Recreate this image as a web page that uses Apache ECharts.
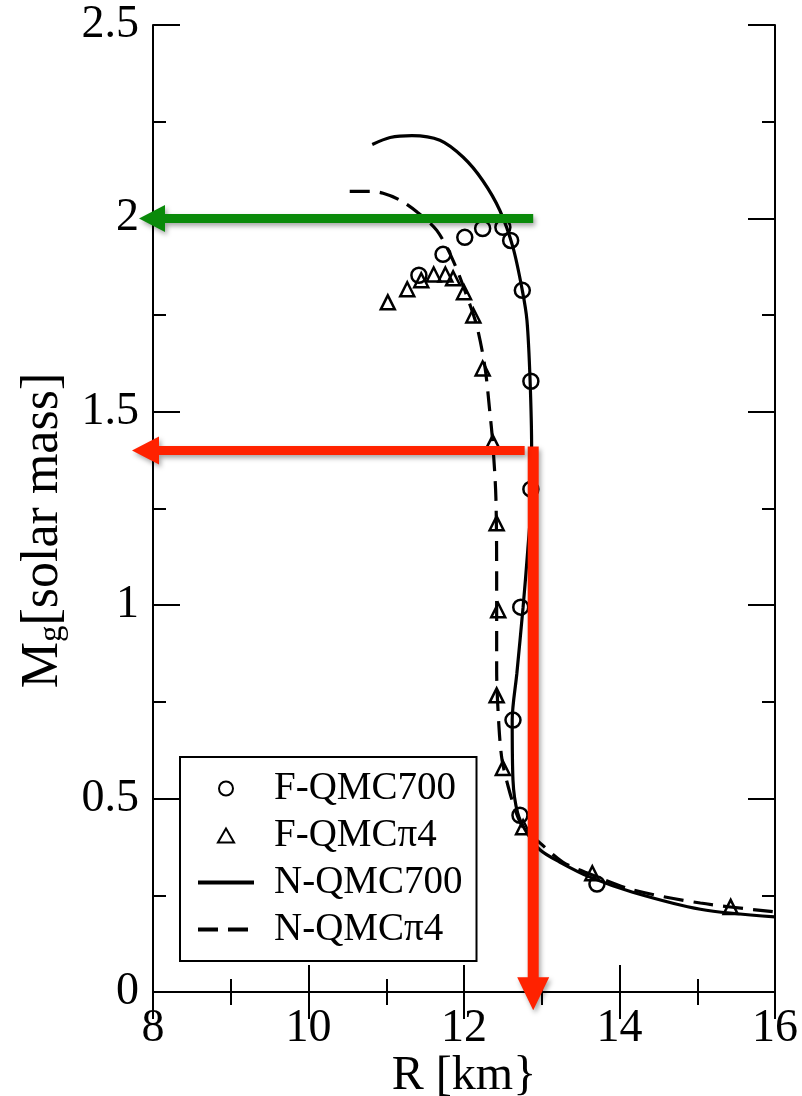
<!DOCTYPE html>
<html>
<head>
<meta charset="utf-8">
<script src="https://cdn.jsdelivr.net/npm/echarts@6/dist/echarts.min.js"></script>
<style>html,body{margin:0;padding:0;background:#fff}#c{width:802px;height:1096px}</style>
</head>
<body>
<div id="c"></div>
<script>
// F-QMC700 (circles)
var circR = [11.42, 11.73, 12.01, 12.24, 12.50, 12.60, 12.75, 12.86, 12.86, 12.73, 12.63, 12.72, 13.71];
var circM = [1.853, 1.907, 1.951, 1.974, 1.977, 1.943, 1.814, 1.579, 1.30, 0.995, 0.703, 0.457, 0.279];
// F-QMCpi4 (triangles)
var triR = [11.02, 11.27, 11.45, 11.61, 11.76, 11.86, 12.00, 12.12, 12.24, 12.37, 12.42, 12.44, 12.42, 12.50, 12.76, 13.65, 15.43];
var triM = [1.783, 1.817, 1.840, 1.855, 1.855, 1.845, 1.809, 1.749, 1.612, 1.421, 1.212, 0.987, 0.767, 0.579, 0.426, 0.307, 0.220];
// N-QMC700 (solid)
var solR = [10.82, 11.05, 11.33, 11.69, 11.99, 12.24, 12.46, 12.63, 12.75, 12.81, 12.85, 12.87, 12.87, 12.82, 12.76, 12.68, 12.62, 12.63, 12.69, 12.81, 12.98, 13.23, 13.62, 14.17, 15.04, 16.0];
var solM = [2.191, 2.209, 2.214, 2.202, 2.158, 2.098, 2.021, 1.925, 1.814, 1.736, 1.581, 1.401, 1.297, 1.142, 0.995, 0.824, 0.703, 0.548, 0.463, 0.411, 0.367, 0.336, 0.297, 0.258, 0.214, 0.194];
// N-QMCpi4 (dashed)
var dasR = [10.53, 10.79, 10.96, 11.18, 11.40, 11.65, 11.86, 12.08, 12.17, 12.27, 12.33, 12.37, 12.41, 12.42, 12.42, 12.45, 12.49, 12.57, 12.66, 12.76, 12.98, 13.27, 13.62, 14.17, 15.04, 16.0];
var dasM = [2.070, 2.070, 2.065, 2.047, 2.016, 1.969, 1.891, 1.775, 1.718, 1.615, 1.504, 1.419, 1.279, 1.065, 0.832, 0.685, 0.599, 0.530, 0.470, 0.426, 0.385, 0.336, 0.305, 0.264, 0.230, 0.207];
// arrows [tail, tip] in data coordinates (R, M)
var arrowGreen = [[12.89, 2.0], [7.82, 2.0]];
var arrowRedH = [[12.78, 1.40], [7.73, 1.40]];
var arrowRedV = [[12.89, 1.41], [12.89, -0.047]];
var names = ['F-QMC700', 'F-QMC\u03c04', 'N-QMC700', 'N-QMC\u03c04'];

function zip(a, b) { return a.map(function (v, i) { return [v, b[i]]; }); }

var FONT = 'Liberation Serif';
var axisCommon = {
  axisLine: { lineStyle: { color: '#000', width: 2 } },
  axisTick: { inside: true, length: 27, lineStyle: { color: '#000', width: 2 } },
  minorTick: { show: true, splitNumber: 2, length: 13, lineStyle: { color: '#000', width: 2 } },
  splitLine: { show: false }
};
function ax(extra) { return Object.assign({}, JSON.parse(JSON.stringify(axisCommon)), extra); }

var chart = echarts.init(document.getElementById('c'));
chart.setOption({
  animation: false,
  backgroundColor: '#fff',
  grid: { left: 153, right: 27, top: 25, bottom: 104, containLabel: false, outerBoundsMode: 'none' },
  xAxis: [
    ax({ type: 'value', min: 8, max: 16, interval: 2, position: 'bottom',
      axisLabel: { fontFamily: FONT, fontSize: 46, color: '#000', margin: 14 },
      name: 'R [km}', nameLocation: 'middle', nameGap: 60, nameMoveOverlap: false,
      nameTextStyle: { fontFamily: FONT, fontSize: 48, color: '#000' } }),
    ax({ type: 'value', min: 8, max: 16, interval: 2, position: 'top', axisLabel: { show: false } })
  ],
  yAxis: [
    ax({ type: 'value', min: 0, max: 2.5, interval: 0.5, position: 'left',
      axisLabel: { fontFamily: FONT, fontSize: 46, color: '#000', margin: 14 },
      name: '{a|M}{b|g}{a|[solar mass]}', nameLocation: 'middle', nameGap: 84,
      nameTextStyle: { fontFamily: FONT, fontSize: 52, color: '#000', padding: [0, 44, 0, 0],
        rich: {
          a: { fontFamily: FONT, fontSize: 52, lineHeight: 52, verticalAlign: 'top', color: '#000' },
          b: { fontFamily: FONT, fontSize: 33, lineHeight: 33, verticalAlign: 'bottom', padding: [27, 0, 0, 0], color: '#000' }
        } } }),
    ax({ type: 'value', min: 0, max: 2.5, interval: 0.5, position: 'right', axisLabel: { show: false } })
  ],
  legend: {
    orient: 'vertical', left: 180, top: 757,
    padding: [8, 14, 8, 16], itemGap: 0, itemWidth: 56, itemHeight: 14,
    backgroundColor: '#fff', borderColor: '#000', borderWidth: 2, borderRadius: 0,
    textStyle: { fontFamily: FONT, fontSize: 39, color: '#000', lineHeight: 47, padding: [0, 0, 0, 15] },
    data: [
      { name: names[0] },
      { name: names[1], icon: 'path://M0,-10L8.66,5L-8.66,5Z' },
      { name: names[2], lineStyle: { width: 4 } },
      { name: names[3], lineStyle: { width: 4 } }
    ]
  },
  series: [
    { name: names[2], type: 'line', data: zip(solR, solM), symbol: 'none', smooth: 0.3,
      lineStyle: { color: '#000', width: 3.2 }, itemStyle: { color: 'rgba(0,0,0,0)', borderWidth: 0 }, z: 2 },
    { name: names[3], type: 'line', data: zip(dasR, dasM), symbol: 'none', smooth: 0.3,
      lineStyle: { color: '#000', width: 3.2, type: [20, 10] }, itemStyle: { color: 'rgba(0,0,0,0)', borderWidth: 0 }, z: 2 },
    { name: names[0], type: 'scatter', data: zip(circR, circM), symbol: 'circle', symbolSize: 15,
      itemStyle: { color: 'rgba(0,0,0,0)', borderColor: '#000', borderWidth: 2.5, opacity: 1 }, z: 3 },
    { name: names[1], type: 'scatter', data: zip(triR, triM), symbol: 'triangle', symbolSize: 14,
      itemStyle: { color: 'rgba(0,0,0,0)', borderColor: '#000', borderWidth: 2.5, opacity: 1 }, z: 3 }
  ]
});

// arrows: positions converted through the chart's own axes
function arrowShape(pair, color, shaftW, headW, headL) {
  var p0 = chart.convertToPixel({ gridIndex: 0 }, pair[0]);
  var p1 = chart.convertToPixel({ gridIndex: 0 }, pair[1]);
  var dx = p1[0] - p0[0], dy = p1[1] - p0[1];
  var len = Math.sqrt(dx * dx + dy * dy);
  var ux = dx / len, uy = dy / len, nx = -uy, ny = ux;
  var bx = p1[0] - ux * headL, by = p1[1] - uy * headL;
  var s = shaftW / 2, h = headW / 2;
  var pts = [
    [p0[0] + nx * s, p0[1] + ny * s],
    [bx + nx * s, by + ny * s],
    [bx + nx * h, by + ny * h],
    [p1[0], p1[1]],
    [bx - nx * h, by - ny * h],
    [bx - nx * s, by - ny * s],
    [p0[0] - nx * s, p0[1] - ny * s]
  ];
  return {
    type: 'polygon', z: 100, silent: true,
    shape: { points: pts },
    style: { fill: color, shadowBlur: 5, shadowColor: 'rgba(0,0,0,0.35)', shadowOffsetX: 2, shadowOffsetY: 3 }
  };
}
chart.setOption({
  graphic: [
    arrowShape(arrowGreen, '#0a8a0a', 9, 27, 26),
    arrowShape(arrowRedV, '#ff2200', 11, 32, 33),
    arrowShape(arrowRedH, '#ff2200', 9, 28, 27)
  ]
});
</script>
</body>
</html>
